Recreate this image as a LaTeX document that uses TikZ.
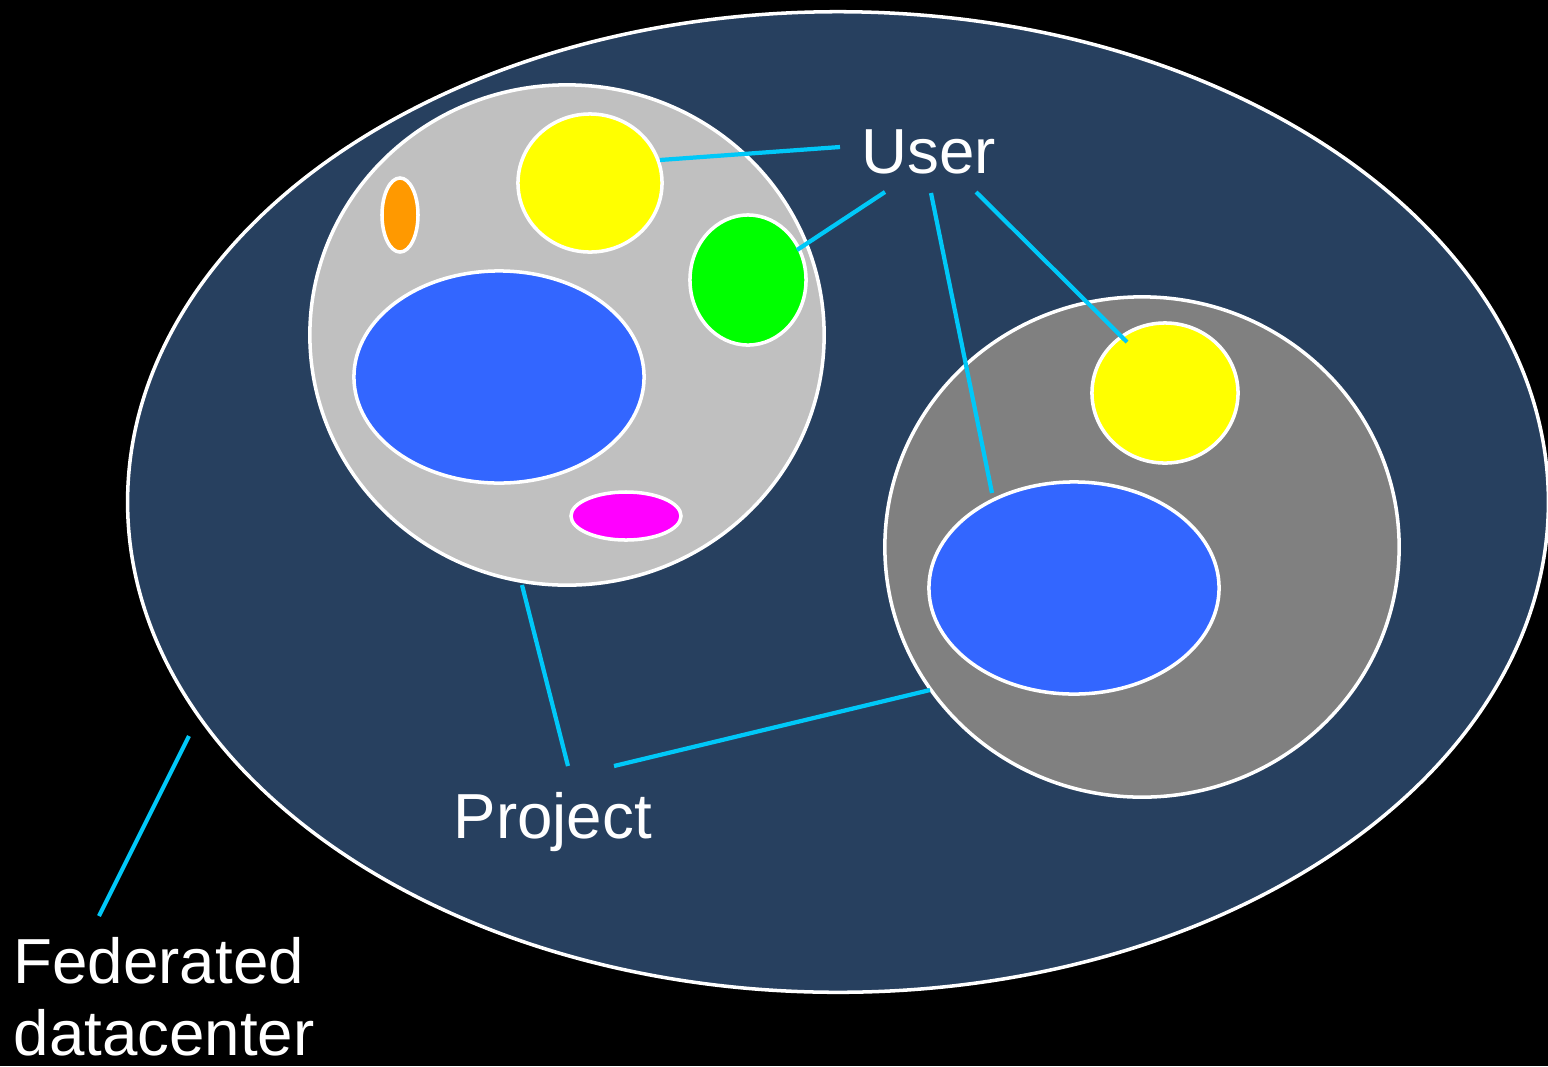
\documentclass[tikz,border=0pt]{standalone}
\usepackage{fontspec}
\setmainfont{Liberation Sans}
\usetikzlibrary{shapes.geometric}
\definecolor{dcblue}{HTML}{27405F}
\definecolor{projlight}{HTML}{C0C0C0}
\definecolor{projdark}{HTML}{808080}
\definecolor{userblue}{HTML}{3366FF}
\definecolor{useryellow}{HTML}{FFFF00}
\definecolor{usergreen}{HTML}{00FF00}
\definecolor{userorange}{HTML}{FF9900}
\definecolor{usermagenta}{HTML}{FF00FF}
\definecolor{linkcyan}{HTML}{00C8F8}
\tikzset{
  blob/.style={ellipse, draw=white, line width=1pt, inner sep=0pt, fill=#1},
  link/.style={draw=linkcyan, line width=1.2pt},
  lbl/.style={text=white, font=\fontsize{18.1}{20}\selectfont, inner sep=0pt, anchor=base west}
}
\begin{document}
\begin{tikzpicture}[x=0.01cm, y=-0.01cm]
\fill[black] (0,0) rectangle (1548,1066);
\useasboundingbox (0,0) rectangle (1548,1066);
% federated datacenter
\node[blob=dcblue, minimum width=14.2cm, minimum height=9.8cm] (dc) at (838,502) {};
% left project
\node[blob=projlight, minimum width=5.14cm, minimum height=5.0cm] (p1) at (567,335) {};
\node[blob=useryellow, minimum width=1.44cm, minimum height=1.38cm] (y1) at (590,183) {};
\node[blob=userorange, minimum width=0.36cm, minimum height=0.74cm] (o1) at (400,215) {};
\node[blob=usergreen, minimum width=1.16cm, minimum height=1.30cm] (g1) at (748,280) {};
\node[blob=userblue, minimum width=2.90cm, minimum height=2.12cm] (b1) at (499,377) {};
\node[blob=usermagenta, minimum width=1.10cm, minimum height=0.48cm] (m1) at (626,516) {};
% right project
\node[blob=projdark, minimum width=5.14cm, minimum height=5.0cm] (p2) at (1142,547) {};
\node[blob=useryellow, minimum width=1.46cm, minimum height=1.40cm] (y2) at (1165,393) {};
\node[blob=userblue, minimum width=2.90cm, minimum height=2.12cm] (b2) at (1074,588) {};
% labels
\node[lbl] (user) at (861,173) {User};
\node[lbl] (project) at (453,838) {Project};
\node[lbl] (fed) at (13,983) {Federated};
\node[lbl] (dctext) at (13,1055) {datacenter};
% connector endpoints
\coordinate (u1a) at (660,160); \coordinate (u1b) at (840,147);
\coordinate (u2a) at (797,250); \coordinate (u2b) at (885,192);
\coordinate (u3a) at (992,493); \coordinate (u3b) at (931,193);
\coordinate (u4a) at (1127,342); \coordinate (u4b) at (976,192);
\coordinate (pa1) at (522,585); \coordinate (pb1) at (568,766);
\coordinate (pa2) at (930,690); \coordinate (pb2) at (614,766);
\coordinate (fa) at (189,736); \coordinate (fb) at (99,916);
\draw[link] (u1a) -- (u1b);
\draw[link] (u2a) -- (u2b);
\draw[link] (u3a) -- (u3b);
\draw[link] (u4a) -- (u4b);
\draw[link] (pa1) -- (pb1);
\draw[link] (pa2) -- (pb2);
\draw[link] (fa) -- (fb);
\end{tikzpicture}
\end{document}
